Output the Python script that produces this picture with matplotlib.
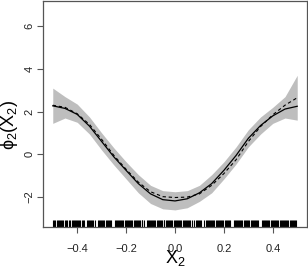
import matplotlib
matplotlib.use("Agg")
import matplotlib.pyplot as plt

plt.rcParams['font.family'] = ['Liberation Sans', 'DejaVu Sans']
plt.rcParams['mathtext.fontset'] = 'custom'
plt.rcParams['mathtext.rm'] = 'Liberation Sans'
plt.rcParams['mathtext.it'] = 'Liberation Sans'

# --- data ---
x_grid = [-0.5, -0.45, -0.4, -0.35, -0.3, -0.25, -0.2, -0.15, -0.1, -0.05, 0.0,
          0.05, 0.1, 0.15, 0.2, 0.25, 0.3, 0.35, 0.4, 0.45, 0.5]
fit = [2.27, 2.15, 1.87, 1.32, 0.6, -0.12, -0.75, -1.37, -1.85, -2.12, -2.18,
       -2.08, -1.8, -1.37, -0.75, -0.05, 0.75, 1.35, 1.8, 2.12, 2.25]
truth = [2.3, 2.2, 1.9, 1.4, 0.7, -0.05, -0.7, -1.3, -1.75, -1.98, -2.02,
         -2.0, -1.85, -1.45, -0.9, -0.25, 0.6, 1.3, 1.85, 2.3, 2.65]
upper = [3.1, 2.7, 2.35, 1.75, 1.0, 0.3, -0.35, -0.95, -1.45, -1.7, -1.75,
         -1.7, -1.45, -0.95, -0.35, 0.35, 1.15, 1.75, 2.2, 2.7, 3.7]
lower = [1.45, 1.7, 1.5, 0.95, 0.2, -0.5, -1.15, -1.8, -2.3, -2.55, -2.6,
         -2.5, -2.2, -1.8, -1.15, -0.45, 0.35, 0.95, 1.45, 1.7, 1.6]

# observed X2 values (rug), read roughly off the bottom strip
rug = [-0.498, -0.494, -0.489, -0.484, -0.479, -0.475, -0.470, -0.466, -0.461,
       -0.457, -0.452, -0.447, -0.443, -0.432, -0.428, -0.423, -0.419, -0.414,
       -0.409, -0.405, -0.400, -0.396, -0.391, -0.387, -0.382, -0.377, -0.373,
       -0.361, -0.357, -0.352, -0.348, -0.343, -0.338, -0.334, -0.329, -0.316,
       -0.312, -0.307, -0.303, -0.298, -0.294, -0.289, -0.284, -0.280, -0.275,
       -0.271, -0.266, -0.261, -0.247, -0.243, -0.238, -0.234, -0.229, -0.225,
       -0.220, -0.215, -0.211, -0.206, -0.202, -0.197, -0.192, -0.188, -0.183,
       -0.179, -0.174, -0.169, -0.165, -0.160, -0.156, -0.151, -0.146, -0.142,
       -0.137, -0.133, -0.128, -0.116, -0.112, -0.107, -0.103, -0.098, -0.093,
       -0.089, -0.084, -0.080, -0.075, -0.070, -0.066, -0.061, -0.057, -0.052,
       -0.047, -0.043, -0.038, -0.034, -0.029, -0.024, -0.020, -0.015, -0.011,
       -0.006, -0.001, 0.003, 0.008, 0.012, 0.017, 0.022, 0.026, 0.031, 0.035,
       0.040, 0.045, 0.049, 0.054, 0.058, 0.063, 0.068, 0.079, 0.084, 0.088,
       0.093, 0.097, 0.102, 0.107, 0.120, 0.125, 0.129, 0.134, 0.138, 0.143,
       0.148, 0.152, 0.157, 0.161, 0.166, 0.171, 0.175, 0.180, 0.184, 0.189,
       0.194, 0.198, 0.203, 0.207, 0.212, 0.217, 0.221, 0.226, 0.240, 0.244,
       0.249, 0.253, 0.258, 0.263, 0.267, 0.272, 0.276, 0.281, 0.286, 0.290,
       0.295, 0.299, 0.304, 0.309, 0.313, 0.318, 0.322, 0.327, 0.332, 0.336,
       0.341, 0.354, 0.359, 0.363, 0.368, 0.372, 0.377, 0.382, 0.386, 0.391,
       0.395, 0.400, 0.405, 0.409, 0.414, 0.418, 0.423, 0.428, 0.432, 0.437,
       0.441, 0.446, 0.451, 0.455, 0.460, 0.464, 0.469, 0.474, 0.478, 0.483,
       0.487, 0.492, 0.497]

xticks = [-0.4, -0.2, 0.0, 0.2, 0.4]
yticks = [-2, 0, 2, 4, 6]

fig = plt.figure(figsize=(3.08, 2.69), dpi=100)
ax = fig.add_axes([43 / 308, 42 / 269, 264 / 308, 226.5 / 269])

ax.fill_between(x_grid, lower, upper, color="#bebebe", lw=0)
ax.plot(x_grid, fit, color="black", lw=0.9)
ax.plot(x_grid, truth, color="black", lw=0.8, ls=(0, (3, 2.5)))
ax.vlines(rug, 0, 0.031, transform=ax.get_xaxis_transform(), color="black", lw=0.8)

ax.set_xlim(-0.54, 0.54)
ax.set_ylim(-3.4, 7.2)
ax.set_xticks(xticks)
ax.set_xticklabels([f"{t:.1f}".replace("-", "\u2212") for t in xticks])
ax.set_yticks(yticks)
ax.set_yticklabels([str(t).replace("-", "\u2212") for t in yticks], rotation=90, va="center")

for s in ax.spines.values():
    s.set_color("#555555")
    s.set_linewidth(0.9)
ax.tick_params(axis="both", length=4, width=0.8, color="#555555", labelsize=8,
               labelcolor="#222222")
ax.tick_params(axis="x", pad=8)
ax.tick_params(axis="y", pad=2)

fig.text(175 / 308, 1 - 258 / 269, r"$\mathrm{X_2}$", ha="center", va="center", fontsize=13)
fig.text(10 / 308, 1 - 125 / 269, r"$\mathrm{\phi_2(X_2)}$", ha="center", va="center",
         rotation=90, fontsize=13)

fig.savefig("out.png", dpi=100)
